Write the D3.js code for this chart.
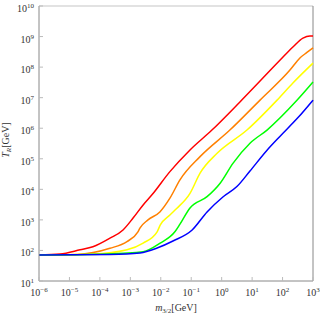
<!DOCTYPE html>
<html>
<head>
<meta charset="utf-8">
<script src="https://cdn.jsdelivr.net/npm/d3@7"></script>
<style>
  body { margin: 0; background: #fff; }
  text { font-family: "Liberation Serif", "DejaVu Serif", serif; fill: #333; }
</style>
</head>
<body>
<script>
// log10 values
var xTickExps = [-6, -5, -4, -3, -2, -1, 0, 1, 2, 3];
var yTickExps = [1, 2, 3, 4, 5, 6, 7, 8, 9, 10];

var redLogM = [-6, -5.31, -4.65, -4.23, -3.67, -3.24, -2.91, -2.58, -2.29, -1.70, -1.04, -0.32, 0.60, 1.92, 2.34, 2.67, 2.90, 3.0];
var redLogT = [1.85, 1.88, 2.02, 2.12, 2.40, 2.67, 3.06, 3.49, 3.82, 4.58, 5.29, 5.94, 6.86, 8.23, 8.66, 8.95, 9.02, 9.02];

var orangeLogM = [-6, -4.75, -3.67, -3.11, -2.75, -2.68, -2.42, -2.03, -1.70, -1.37, -0.71, 0.27, 1.26, 2.25, 2.57, 2.80, 3.0];
var orangeLogT = [1.85, 1.87, 2.07, 2.29, 2.61, 2.74, 3.00, 3.26, 3.71, 4.31, 5.07, 5.94, 6.92, 7.91, 8.30, 8.48, 8.63];

var yellowLogM = [-6, -4.23, -3.11, -2.58, -2.12, -2.02, -1.70, -1.47, -1.04, -0.71, -0.15, 0.83, 1.82, 2.34, 3.0];
var yellowLogT = [1.85, 1.88, 2.02, 2.24, 2.61, 2.83, 3.16, 3.38, 3.87, 4.53, 5.18, 5.94, 6.92, 7.48, 8.13];

var greenLogM = [-6, -3.77, -2.58, -2.02, -1.53, -1.37, -1.04, -0.48, -0.05, 0.37, 0.93, 1.49, 2.48, 3.0];
var greenLogT = [1.85, 1.885, 1.96, 2.24, 2.62, 2.86, 3.39, 3.76, 4.20, 4.85, 5.51, 5.94, 6.92, 7.51];

var blueLogM = [-6, -3.67, -2.68, -2.12, -1.60, -0.97, -0.48, 0.04, 0.50, 0.93, 1.49, 1.92, 2.50, 3.0];
var blueLogT = [1.85, 1.87, 1.92, 2.08, 2.31, 2.67, 3.26, 3.75, 4.09, 4.60, 5.28, 5.74, 6.34, 6.92];

var seriesNames = ["red", "orange", "yellow", "green", "blue"];
var seriesColors = ["#ff0000", "#ff8000", "#ffff00", "#00ff00", "#0000ff"];
var seriesM = [redLogM, orangeLogM, yellowLogM, greenLogM, blueLogM];
var seriesT = [redLogT, orangeLogT, yellowLogT, greenLogT, blueLogT];

var svg = d3.select("body").append("svg")
    .attr("width", 320)
    .attr("height", 316);

var x = d3.scaleLog().domain([1e-6, 1e3]).range([39, 313]);
var y = d3.scaleLog().domain([1e1, 1e10]).range([281, 6]);

// frame
svg.append("line").attr("x1", 39).attr("x2", 313).attr("y1", 6).attr("y2", 6)
    .attr("stroke", "#d8d8d8").attr("stroke-width", 1.5);
svg.append("line").attr("x1", 313).attr("x2", 313).attr("y1", 6).attr("y2", 281)
    .attr("stroke", "#888").attr("stroke-width", 1);

var line = d3.line()
    .x(function(d) { return x(Math.pow(10, d[0])); })
    .y(function(d) { return y(Math.pow(10, d[1])); })
    .curve(d3.curveMonotoneX);

svg.append("g").selectAll("path")
    .data(seriesNames)
  .enter().append("path")
    .attr("fill", "none")
    .attr("stroke", function(d, i) { return seriesColors[i]; })
    .attr("stroke-width", 1.5)
    .attr("stroke-linejoin", "round")
    .attr("d", function(d, i) {
      return line(seriesM[i].map(function(m, j) { return [m, seriesT[i][j]]; }));
    });

// axes
svg.append("line").attr("x1", 39).attr("x2", 313).attr("y1", 281).attr("y2", 281)
    .attr("stroke", "#888");
svg.append("line").attr("x1", 39).attr("x2", 39).attr("y1", 6).attr("y2", 281)
    .attr("stroke", "#888");

svg.append("g").selectAll("line")
    .data(xTickExps)
  .enter().append("line")
    .attr("x1", function(e) { return x(Math.pow(10, e)); })
    .attr("x2", function(e) { return x(Math.pow(10, e)); })
    .attr("y1", 281).attr("y2", 277)
    .attr("stroke", "#bbb");

svg.append("g").selectAll("line")
    .data(yTickExps)
  .enter().append("line")
    .attr("x1", 39).attr("x2", 43)
    .attr("y1", function(e) { return y(Math.pow(10, e)); })
    .attr("y2", function(e) { return y(Math.pow(10, e)); })
    .attr("stroke", "#bbb");

function sup(e) { return (e < 0 ? "\u2212" + (-e) : "" + e); }

var xl = svg.append("g").selectAll("text")
    .data(xTickExps)
  .enter().append("text")
    .attr("x", function(e) { return x(Math.pow(10, e)); })
    .attr("y", 296)
    .attr("text-anchor", "middle")
    .style("font-size", "10px");
xl.append("tspan").text("10");
xl.append("tspan").attr("dy", -4).style("font-size", "7px").text(sup);

var yl = svg.append("g").selectAll("text")
    .data(yTickExps)
  .enter().append("text")
    .attr("x", 34)
    .attr("y", function(e) { return y(Math.pow(10, e)) + 6; })
    .attr("text-anchor", "end")
    .style("font-size", "10px");
yl.append("tspan").text("10");
yl.append("tspan").attr("dy", -4).style("font-size", "7px").text(sup);

// axis titles
var xt = svg.append("text")
    .attr("x", 176).attr("y", 311)
    .attr("text-anchor", "middle")
    .style("font-size", "10px");
xt.append("tspan").style("font-style", "italic").text("m");
xt.append("tspan").attr("dy", 2).style("font-size", "7px").text("3/2");
xt.append("tspan").attr("dy", -2).text("[GeV]");

var yt = svg.append("text")
    .attr("transform", "translate(9,140) rotate(-90)")
    .attr("text-anchor", "middle")
    .style("font-size", "10px");
yt.append("tspan").style("font-style", "italic").text("T");
yt.append("tspan").attr("dy", 2).style("font-size", "7px").style("font-style", "italic").text("R");
yt.append("tspan").attr("dy", -2).text("[GeV]");
</script>
</body>
</html>
